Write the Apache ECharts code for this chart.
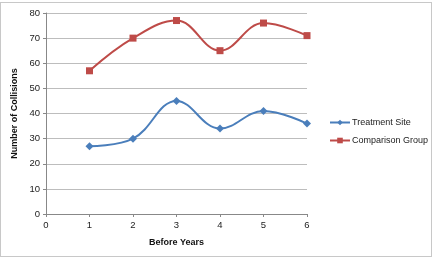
<!DOCTYPE html>
<html><head><meta charset="utf-8">
<script src="https://cdn.jsdelivr.net/npm/echarts@6/dist/echarts.min.js"></script>
<style>html,body{margin:0;padding:0;background:#fff}#c{width:435px;height:260px}
#frame{position:absolute;left:0;top:2px;width:432px;height:255px;border:1px solid #c8c8c8;box-sizing:border-box;pointer-events:none}</style>
</head><body><div id="c"></div><div id="frame"></div>
<script>
var years = [1, 2, 3, 4, 5, 6];
var treatment = [27, 30, 45, 34, 41, 36];
var comparison = [57, 70, 77, 65, 76, 71];
var xTicks = [0, 1, 2, 3, 4, 5, 6];
var yTicks = [0, 10, 20, 30, 40, 50, 60, 70, 80];

var font = 'Liberation Sans';
var chart = echarts.init(document.getElementById('c'));
chart.setOption({
  animation: false,
  textStyle: {fontFamily: font},
  grid: {left: 46, right: 128, top: 13, bottom: 46},
  legend: {
    orient: 'vertical', left: 324, top: 113, itemGap: 9,
    itemWidth: 20, itemHeight: 7,
    textStyle: {fontSize: 9, color: '#222', fontFamily: font, padding: [0, 0, 0, -3]},
    data: ['Treatment Site', 'Comparison Group']
  },
  xAxis: {
    type: 'value', min: 0, max: 6, interval: 1,
    name: 'Before Years', nameLocation: 'middle', nameGap: 24,
    nameTextStyle: {fontWeight: 'bold', fontSize: 9, color: '#111'},
    axisLine: {show: true, lineStyle: {color: '#888'}},
    axisTick: {show: true, length: 3, lineStyle: {color: '#888'}},
    axisLabel: {fontSize: 9.5, color: '#222', margin: 6},
    splitLine: {show: false}
  },
  yAxis: {
    type: 'value', min: 0, max: 80, interval: 10,
    name: 'Number of Collisions', nameLocation: 'middle', nameGap: 20,
    nameTextStyle: {fontWeight: 'bold', fontSize: 9, color: '#111'},
    axisLine: {show: true, lineStyle: {color: '#888'}},
    axisTick: {show: true, length: 3, lineStyle: {color: '#888'}},
    axisLabel: {fontSize: 9.5, color: '#222', margin: 6},
    splitLine: {show: true, lineStyle: {color: '#bdbdbd'}}
  },
  series: [
    {name: 'Treatment Site', type: 'line', smooth: 0.4,
     data: years.map(function(x, i){ return [x, treatment[i]]; }),
     symbol: 'diamond', symbolSize: 8,
     itemStyle: {color: '#4A7EBB'}, lineStyle: {color: '#4A7EBB', width: 2}},
    {name: 'Comparison Group', type: 'line', smooth: 0.4,
     data: years.map(function(x, i){ return [x, comparison[i]]; }),
     symbol: 'rect', symbolSize: 7,
     itemStyle: {color: '#BE4B48'}, lineStyle: {color: '#BE4B48', width: 2}}
  ]
});
</script></body></html>
